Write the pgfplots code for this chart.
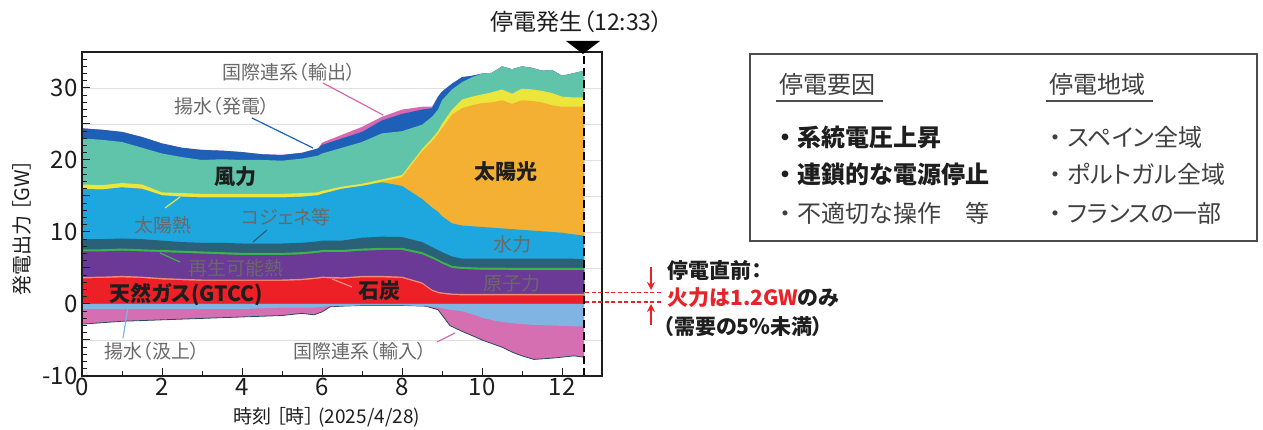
\documentclass[border=0pt]{standalone}
\usepackage{fontspec}
\setmainfont{Noto Sans CJK JP}[RawFeature=+palt]
\usepackage{pgfplots}
\pgfplotsset{compat=1.18}
\usepackage{pgfplotstable}
\usetikzlibrary{arrows.meta}

\definecolor{cgas}{RGB}{236,32,38}
\definecolor{ccoal}{RGB}{240,140,120}
\definecolor{cnuc}{RGB}{106,58,150}
\definecolor{cren}{RGB}{60,180,75}
\definecolor{ccog}{RGB}{42,96,120}
\definecolor{chyd}{RGB}{30,166,222}
\definecolor{cpv}{RGB}{244,176,50}
\definecolor{csth}{RGB}{236,230,60}
\definecolor{cwind}{RGB}{96,196,170}
\definecolor{cpgen}{RGB}{30,96,184}
\definecolor{cexp}{RGB}{216,104,176}
\definecolor{cpump}{RGB}{128,180,226}
\definecolor{cimp}{RGB}{214,110,178}
\definecolor{lgray}{RGB}{105,105,105}
\definecolor{tred}{RGB}{232,34,40}
\definecolor{dk}{RGB}{30,30,30}

% cumulative upper boundaries of each layer [GW]
\pgfplotstableread{
h     gas  coal nuc  ren  cog  hyd  pv   sth  wind pgen exp
0     3.55 3.75 7.3  7.6  9.0  16.0 16.0 16.6 23.0 24.4 24.4
0.5   3.6  3.8  7.3  7.6  9.0  15.9 15.9 16.5 22.8 24.2 24.2
1     3.7  3.9  7.4  7.7  9.1  16.2 16.2 16.8 22.5 23.9 23.9
1.5   3.6  3.8  7.3  7.6  9.0  16.0 16.0 16.6 21.7 23.2 23.2
2     3.4  3.6  7.2  7.5  8.8  15.1 15.1 15.5 20.9 22.3 22.3
2.5   3.3  3.5  7.1  7.4  8.6  14.9 14.9 15.4 20.4 21.7 21.7
3     3.2  3.4  7.0  7.3  8.5  14.8 14.8 15.3 20.0 21.4 21.4
3.5   3.2  3.4  6.9  7.2  8.5  14.8 14.8 15.3 20.1 21.3 21.3
4     3.2  3.4  6.8  7.1  8.4  14.8 14.8 15.3 20.0 21.1 21.1
4.5   3.2  3.4  6.8  7.1  8.4  14.8 14.8 15.3 20.0 20.8 20.8
5     3.2  3.4  6.8  7.1  8.4  14.8 14.8 15.3 19.9 20.7 20.7
5.5   3.3  3.5  6.9  7.2  8.5  14.9 14.9 15.4 20.2 21.0 21.0
5.9   3.5  3.7  7.1  7.4  8.7  15.1 15.1 15.5 20.6 21.6 21.6
6     3.6  3.8  7.2  7.5  8.8  15.3 15.3 15.7 20.9 22.1 22.4
6.5   3.5  3.7  7.2  7.5  8.8  16.0 16.0 16.3 21.7 23.0 23.5
7     3.7  3.9  7.4  7.7  9.2  16.4 16.4 16.7 22.5 23.9 24.6
7.5   3.7  3.9  7.5  7.8  9.35 16.9 17.0 17.3 23.7 25.5 26.0
8     3.6  3.8  7.5  7.8  9.3  16.4 17.6 17.9 24.0 26.4 27.0
8.5   2.8  3.0  6.9  7.2  8.6  14.6 21.2 21.5 24.9 27.0 27.4
8.75  1.8  2.0  6.3  6.6  7.9  13.4 22.6 23.0 26.0 27.2 27.4
8.9   1.5  1.7  5.9  6.2  7.5  12.8 23.6 24.0 27.0 28.8 28.8
9     1.4  1.6  5.6  5.9  7.2  12.2 24.4 25.0 28.3 29.5 29.5
9.25  1.25 1.45 5.0  5.3  6.6  11.2 26.3 27.0 29.8 30.6 30.6
9.5   1.2  1.4  4.85 5.15 6.3  10.9 27.2 28.4 30.8 31.5 31.5
9.75  1.2  1.4  4.8  5.1  6.3  10.8 27.6 28.8 31.5 31.7 31.7
10    1.2  1.4  4.75 5.05 6.3  10.7 27.9 29.1 32.0 32.0 32.0
10.25 1.2  1.4  4.75 5.05 6.3  10.6 28.0 29.4 32.1 32.1 32.1
10.5  1.2  1.4  4.75 5.05 6.3  10.5 28.3 29.8 33.0 33.0 33.0
10.75 1.2  1.4  4.7  5.0  6.3  10.4 27.8 29.2 32.6 32.6 32.6
11    1.2  1.4  4.7  5.0  6.3  10.3 28.3 29.9 33.0 33.0 33.0
11.25 1.2  1.4  4.7  5.0  6.3  10.2 28.2 29.8 32.8 32.8 32.8
11.5  1.2  1.4  4.7  5.0  6.3  10.1 28.0 29.6 32.4 32.4 32.4
11.75 1.2  1.4  4.7  5.0  6.3  10.0 27.6 29.3 32.5 32.5 32.5
12    1.2  1.4  4.7  5.0  6.3  9.9  27.4 28.8 31.7 31.7 31.7
12.25 1.2  1.4  4.7  5.0  6.3  9.7  27.4 28.7 32.0 32.0 32.0
12.55 1.2  1.4  4.7  5.0  6.2  9.5  27.4 28.7 32.4 32.4 32.4
}\pos

% cumulative lower boundaries of negative layers [GW]
\pgfplotstableread{
h     pump imp
0     -0.7 -2.8
0.5   -0.7 -2.6
1     -0.7 -2.4
1.5   -0.7 -2.3
2     -0.7 -2.2
2.5   -0.7 -2.1
3     -0.7 -2.0
3.5   -0.7 -1.9
4     -0.7 -1.8
4.5   -0.6 -1.7
5     -0.5 -1.6
5.5   -0.5 -1.3
5.8   -0.5 -1.5
6     -0.4 -1.1
6.2   -0.3 -0.4
6.5   -0.3 -0.3
7     -0.2 -0.2
8     -0.2 -0.2
8.6   -0.3 -0.3
8.9   -0.5 -0.8
9.2   -0.8 -3.0
9.5   -1.0 -3.8
9.8   -1.5 -4.5
10    -1.9 -5.0
10.3  -2.3 -5.6
10.5  -2.5 -6.0
10.8  -2.7 -6.8
11    -2.8 -7.2
11.3  -2.9 -7.7
11.8  -3.0 -7.5
12.3  -3.1 -7.2
12.55 -3.1 -7.4
}\neg

\begin{document}
\begin{tikzpicture}
\path[use as bounding box] (0pt,0pt) rectangle (1263pt,430pt);
\begin{axis}[
  at={(82pt,54pt)}, anchor=south west,
  scale only axis, width=520pt, height=324pt,
  xmin=0, xmax=13, ymin=-10, ymax=35,
  axis on top,
  axis line style={dk, line width=1.3pt},
  tick align=inside,
  xtick={0,2,...,12}, minor x tick num=1, xtick pos=bottom,
  ytick={-10,-5,...,35}, yticklabels={-10,,0,,10,,20,,30,},
  minor y tick num=4, ytick pos=left,
  major tick length=8pt, minor tick length=5pt,
  tick style={dk, line width=1pt},
  ticklabel style={font=\fontsize{24}{24}\selectfont, text=dk},
  xticklabel style={yshift=-1pt, inner ysep=1pt},
  yticklabel style={xshift=-1pt},
  /pgf/number format/assume math mode=true,
]
\pgfplotsinvokeforeach{-5,5,10,15,20,25,30}{
  \draw[gray!25, line width=0.9pt] (axis cs:0,#1) -- (axis cs:13,#1);
}
\addplot[draw=none, fill=cexp]  table[x=h,y=exp]  {\pos} \closedcycle;
\addplot[draw=none, fill=cpgen] table[x=h,y=pgen] {\pos} \closedcycle;
\addplot[draw=none, fill=cwind] table[x=h,y=wind] {\pos} \closedcycle;
\addplot[draw=none, fill=csth]  table[x=h,y=sth]  {\pos} \closedcycle;
\addplot[draw=none, fill=cpv]   table[x=h,y=pv]   {\pos} \closedcycle;
\addplot[draw=none, fill=chyd]  table[x=h,y=hyd]  {\pos} \closedcycle;
\addplot[draw=none, fill=ccog]  table[x=h,y=cog]  {\pos} \closedcycle;
\addplot[draw=none, fill=cren]  table[x=h,y=ren]  {\pos} \closedcycle;
\addplot[draw=none, fill=cnuc]  table[x=h,y=nuc]  {\pos} \closedcycle;
\addplot[draw=none, fill=ccoal] table[x=h,y=coal] {\pos} \closedcycle;
\addplot[draw=none, fill=cgas]  table[x=h,y=gas]  {\pos} \closedcycle;
\addplot[draw=none, fill=cimp]  table[x=h,y=imp]  {\neg} \closedcycle;
\addplot[color=ccog!80!black, line width=0.8pt] table[x=h,y=imp] {\neg};
\addplot[draw=none, fill=cpump] table[x=h,y=pump] {\neg} \closedcycle;
\draw[black, line width=2.4pt, dash pattern=on 8pt off 4pt] (axis cs:12.55,-10) -- (axis cs:12.55,35);
\end{axis}

\begin{scope}[shift={(0pt,430pt)}, x=1pt, y=-1pt]
% top marker
\fill[black] (566,41) -- (600,41) -- (583,54) -- cycle;
\node[font=\fontsize{23}{26}\selectfont, text=dk] at (577,22) {停電発生（12:33）};
% axis labels
\node[rotate=90, font=\fontsize{20}{22}\selectfont, text=dk] at (22,228) {発電出力 ［GW］};
\node[font=\fontsize{19}{20}\selectfont, text=dk, inner sep=1pt] at (327,417) {時刻 ［時］ (2025/4/28)};
% leader lines
\draw[cexp, line width=1.2pt] (323,83) -- (383,115);
\draw[cpgen, line width=1.2pt] (252,118) -- (313,148);
\draw[csth, line width=1.2pt] (165,208) -- (180,197);
\draw[ccog, line width=1.2pt] (253,242) -- (267,230);
\draw[cren, line width=1.2pt] (160,253) -- (180,262);
\draw[ccoal, line width=1.2pt] (332,279) -- (352,287);
\draw[cpump, line width=1.2pt] (123,338) -- (128,307);
\draw[cimp, line width=1.2pt] (437,342) -- (455,333);
% series labels
\begin{scope}[every node/.style={font=\fontsize{19}{22}\selectfont, text=lgray}]
\node at (289,72) {国際連系（輸出）};
\node at (222,106) {揚水（発電）};
\node at (163,225) {太陽熱};
\node at (286,217) {コジェネ等};
\node at (236,268) {再生可能熱};
\node at (512,244) {水力};
\node at (512,283) {原子力};
\node at (152,351) {揚水（汲上）};
\node at (360,351) {国際連系（輸入）};
\end{scope}
\begin{scope}[every node/.style={font=\fontsize{21}{24}\selectfont\bfseries, text=dk}]
\node at (235,177) {風力};
\node at (186,295) {天然ガス(GTCC)};
\node at (379,291) {石炭};
\node at (506,172) {太陽光};
\end{scope}
% right annotation
\draw[tred, line width=1.5pt, dash pattern=on 4pt off 2.5pt] (585,292.5) -- (662,292.5);
\draw[tred, line width=1.5pt, dash pattern=on 4pt off 2.5pt] (585,302) -- (662,302);
\draw[tred, line width=1.6pt, -{Stealth[length=8pt,width=8pt]}] (651,267) -- (651,290);
\draw[tred, line width=1.6pt, -{Stealth[length=8pt,width=8pt]}] (651,325) -- (651,304);
\node[anchor=west, font=\fontsize{21}{24}\selectfont\bfseries, text=dk] at (664,271) {停電直前：};
\node[anchor=west, font=\fontsize{21}{24}\selectfont\bfseries, text=dk] at (664,298) {\textcolor{tred}{火力は1.2GW}のみ};
\node[anchor=west, font=\fontsize{21}{24}\selectfont\bfseries, text=dk] at (660,327) {（需要の5％未満）};
% box
\draw[black!70, line width=1.2pt] (750,54) rectangle (1257,241);
\begin{scope}[every node/.style={anchor=west, font=\fontsize{24}{28}\selectfont, text=dk!85}]
\node at (776,84) {停電要因};
\node at (1046,84) {停電地域};
\node[font=\fontsize{24}{28}\selectfont\bfseries, text=dk] at (776,137) {・\hspace{0.25em}系統電圧上昇};
\node[font=\fontsize{24}{28}\selectfont\bfseries, text=dk] at (776,174) {・\hspace{0.25em}連鎖的な電源停止};
\node at (776,213) {・\hspace{0.25em}不適切な操作\quad 等};
\node at (1046,137) {・\hspace{0.25em}スペイン全域};
\node at (1046,174) {・\hspace{0.25em}ポルトガル全域};
\node at (1046,213) {・\hspace{0.25em}フランスの一部};
\end{scope}
\draw[black!70, line width=1.3pt] (776,101) -- (883,101);
\draw[black!70, line width=1.3pt] (1046,101) -- (1153,101);
\end{scope}
\end{tikzpicture}
\end{document}
